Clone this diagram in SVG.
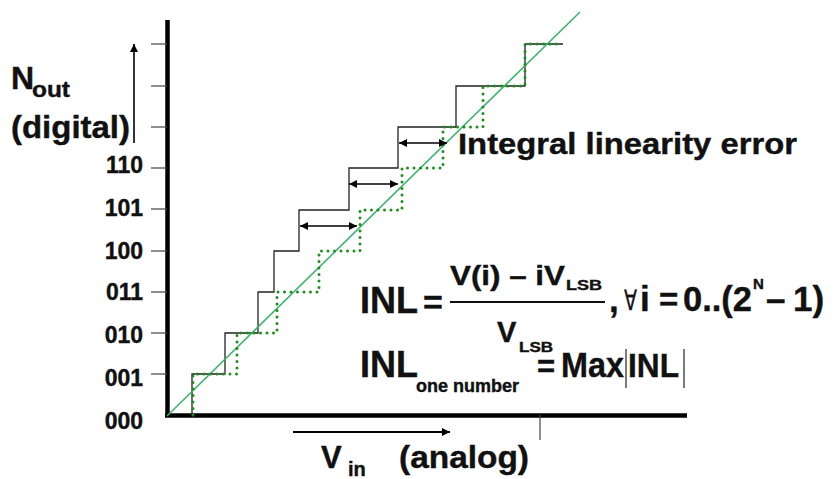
<svg xmlns="http://www.w3.org/2000/svg" width="833" height="479" viewBox="0 0 833 479">
<style>
text{font-family:"Liberation Sans",Arial,sans-serif;font-weight:bold;fill:#111;stroke:#111;stroke-width:0.4}
.tick{stroke:#444;stroke-width:1.2}
.ax{stroke:#000;stroke-width:4.5;fill:none}
.ideal{fill:none;stroke:#1e8c1e;stroke-width:3;stroke-dasharray:0 6.5;stroke-linecap:round}
.actual{fill:none;stroke:#222;stroke-width:1.3}
.diag{stroke:#3cb46e;stroke-width:1.6}
.arr{stroke:#000;stroke-width:1.6;marker-start:url(#hs);marker-end:url(#he)}
.lbl{font-size:23px;text-anchor:end}
</style>
<defs>
<marker id="he" viewBox="0 0 10 10" refX="10" refY="5" markerWidth="10" markerHeight="8" markerUnits="userSpaceOnUse" orient="auto"><path d="M0,0 L10,5 L0,10 z" fill="#000"/></marker>
<marker id="hs" viewBox="0 0 10 10" refX="0" refY="5" markerWidth="10" markerHeight="8" markerUnits="userSpaceOnUse" orient="auto"><path d="M10,0 L0,5 L10,10 z" fill="#000"/></marker>
<marker id="hb" viewBox="0 0 10 10" refX="10" refY="5" markerWidth="11" markerHeight="8" markerUnits="userSpaceOnUse" orient="auto"><path d="M0,0 L10,5 L0,10 z" fill="#000"/></marker>
</defs>

<g id="axes">
<line class="ax" x1="167.5" y1="20" x2="167.5" y2="417"/>
<line class="ax" x1="165" y1="415.5" x2="687" y2="415.5"/>
<line class="tick" x1="540" y1="415" x2="540" y2="440"/>
<g id="yticks">
<line class="tick" x1="151" y1="44" x2="167" y2="44"/>
<line class="tick" x1="151" y1="86" x2="167" y2="86"/>
<line class="tick" x1="151" y1="127" x2="167" y2="127"/>
<line class="tick" x1="151" y1="168" x2="167" y2="168"/>
<line class="tick" x1="151" y1="209" x2="167" y2="209"/>
<line class="tick" x1="151" y1="251" x2="167" y2="251"/>
<line class="tick" x1="151" y1="292" x2="167" y2="292"/>
<line class="tick" x1="151" y1="333" x2="167" y2="333"/>
<line class="tick" x1="151" y1="374" x2="167" y2="374"/>
</g>
</g>

<g id="ylabels">
<text class="lbl" x="143" y="173">110</text>
<text class="lbl" x="143" y="216">101</text>
<text class="lbl" x="143" y="259">100</text>
<text class="lbl" x="143" y="300">011</text>
<text class="lbl" x="143" y="343">010</text>
<text class="lbl" x="143" y="386">001</text>
<text class="lbl" x="143" y="429">000</text>
</g>

<g id="nout-label">
<text x="11" y="89" font-size="32">N</text>
<text x="32" y="97" font-size="22" textLength="38" lengthAdjust="spacingAndGlyphs">out</text>
<text x="11" y="138" font-size="31" textLength="119" lengthAdjust="spacingAndGlyphs">(digital)</text>
</g>

<g id="vin-label">
<text x="321" y="468" font-size="31">V</text>
<text x="348" y="476" font-size="20">in</text>
<text x="399" y="468" font-size="31" textLength="130" lengthAdjust="spacingAndGlyphs">(analog)</text>
</g>

<g id="curves">
<path class="actual" d="M192,415 V374 H225 V333 H258 V292 H274 V251 H299 V210 H349 V168 H398 V127 H456 V86 H525 V44 H563"/>
<line class="diag" x1="167" y1="416" x2="580" y2="12"/>
<path class="ideal" d="M193,415 V374 H237 V333 H277 V292 H319 V251 H360 V210 H402 V168 H443 V127 H483 V86 H525 V44 H563"/>
</g>

<g id="connectors">
<line class="arr" x1="300" y1="226" x2="357" y2="226"/>
<line class="arr" x1="349" y1="184" x2="398" y2="184"/>
<line class="arr" x1="399" y1="143" x2="447" y2="143"/>
<line stroke="#000" stroke-width="1.6" x1="134" y1="143" x2="134" y2="44" marker-end="url(#hb)"/>
<line stroke="#000" stroke-width="2" x1="293" y1="432" x2="450" y2="432" marker-end="url(#hb)"/>
</g>

<g id="title">
<text x="458" y="154" font-size="30" textLength="339" lengthAdjust="spacingAndGlyphs">Integral linearity error</text>
</g>

<g id="formula1">
<text x="360" y="313" font-size="36">INL</text>
<text x="423" y="314" font-size="34">=</text>
<text x="450" y="285" font-size="28" textLength="115" lengthAdjust="spacingAndGlyphs">V(i) – iV</text>
<text x="566" y="290" font-size="15" textLength="36" lengthAdjust="spacingAndGlyphs">LSB</text>
<line x1="450" y1="302" x2="605" y2="302" stroke="#111" stroke-width="2"/>
<text x="497" y="342" font-size="29">V</text>
<text x="519" y="352" font-size="15" textLength="34" lengthAdjust="spacingAndGlyphs">LSB</text>
<text x="609" y="312" font-size="35">,</text>
<text x="624" y="310" font-size="28" textLength="13" lengthAdjust="spacingAndGlyphs" style="font-family:'DejaVu Sans',sans-serif;font-weight:normal;stroke-width:0.3">∀</text>
<text x="640" y="311" font-size="35">i</text>
<text x="659" y="311" font-size="33">=</text>
<text x="683" y="311" font-size="35" textLength="69" lengthAdjust="spacingAndGlyphs">0..(2</text>
<text x="753" y="289" font-size="15">N</text>
<text x="766" y="311" font-size="35">–</text>
<text x="793" y="311" font-size="35">1)</text>
</g>

<g id="formula2">
<text x="360" y="377" font-size="36">INL</text>
<text x="416" y="392" font-size="18" textLength="103" lengthAdjust="spacingAndGlyphs">one number</text>
<text x="537" y="377" font-size="31">=</text>
<text x="561" y="377" font-size="35" textLength="63" lengthAdjust="spacingAndGlyphs">Max</text>
<line x1="626" y1="349" x2="626" y2="388" stroke="#333" stroke-width="1.3"/>
<text x="628" y="377" font-size="34" textLength="51" lengthAdjust="spacingAndGlyphs">INL</text>
<line x1="684" y1="349" x2="684" y2="388" stroke="#333" stroke-width="1.3"/>
</g>
</svg>
